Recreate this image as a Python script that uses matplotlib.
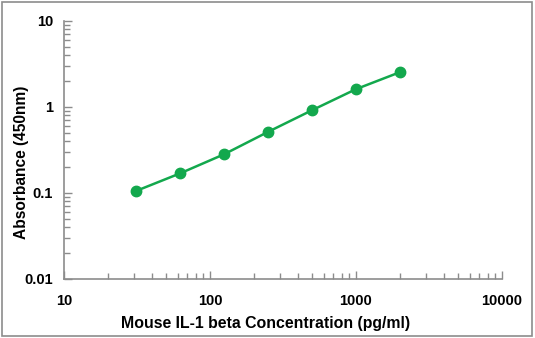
"""
Mouse IL-1 beta standard curve, log-log
"""

import matplotlib
matplotlib.use('Agg')
import matplotlib.pyplot as plt
from matplotlib.patches import Rectangle
from matplotlib.ticker import LogLocator, NullFormatter

# Standard concentrations (pg/ml) and measured absorbance
conc = [31.25, 62.5, 125, 250, 500, 1000, 2000]
absorbance = [0.105, 0.168, 0.28, 0.51, 0.91, 1.60, 2.52]

x_ticks = [10, 100, 1000, 10000]
x_labels = ['10', '100', '1000', '10000']
y_ticks = [0.01, 0.1, 1, 10]
y_labels = ['0.01', '0.1', '1', '10']

plt.rcParams['font.family'] = ['Liberation Sans', 'DejaVu Sans']
plt.rcParams['font.weight'] = 'bold'

green = '#13A84D'
gray = '#8C8C8C'

fig = plt.figure(figsize=(5.35, 3.38), dpi=100)
ax = fig.add_axes([64 / 535, 1 - 278.7 / 338, (502 - 64) / 535, (278.7 - 20.7) / 338])

ax.plot(conc, absorbance, color=green, lw=1.8, marker='o', ms=7.5, mec=green, mfc=green)

ax.set_xscale('log')
ax.set_yscale('log')
ax.set_xlim(10, 10000)
ax.set_ylim(0.01, 10)

ax.set_xticks(x_ticks, labels=x_labels, fontsize=10.5, fontweight='bold')
ax.set_yticks(y_ticks, labels=y_labels, fontsize=10.5, fontweight='bold')
for axis in (ax.xaxis, ax.yaxis):
    axis.set_minor_locator(LogLocator(base=10, subs=range(2, 10)))
    axis.set_minor_formatter(NullFormatter())

for side in ('top', 'right'):
    ax.spines[side].set_visible(False)
for side in ('left', 'bottom'):
    ax.spines[side].set_color(gray)
    ax.spines[side].set_linewidth(1.2)

ax.tick_params(which='major', direction='in', length=6, width=1, color=gray)
ax.tick_params(axis='x', which='major', pad=11)
ax.tick_params(axis='y', which='major', pad=8)
ax.tick_params(which='minor', direction='in', length=4, width=1, color=gray)

ax.set_xlabel('Mouse IL-1 beta Concentration (pg/ml)', fontsize=11.4, fontweight='bold')
ax.set_ylabel('Absorbance (450nm)', fontsize=11.2, fontweight='bold')
ax.xaxis.set_label_coords(0.461, -0.172)
ax.yaxis.set_label_coords(-0.096, 0.45)
ax.xaxis.label.set_va('center')
ax.yaxis.label.set_va('center')

# thin frame around the whole picture
fig.patches.append(Rectangle((0.004, 0.005), 0.99, 0.99, transform=fig.transFigure,
                             fill=False, edgecolor=gray, lw=1.2))

fig.savefig('out.png', dpi=100)
